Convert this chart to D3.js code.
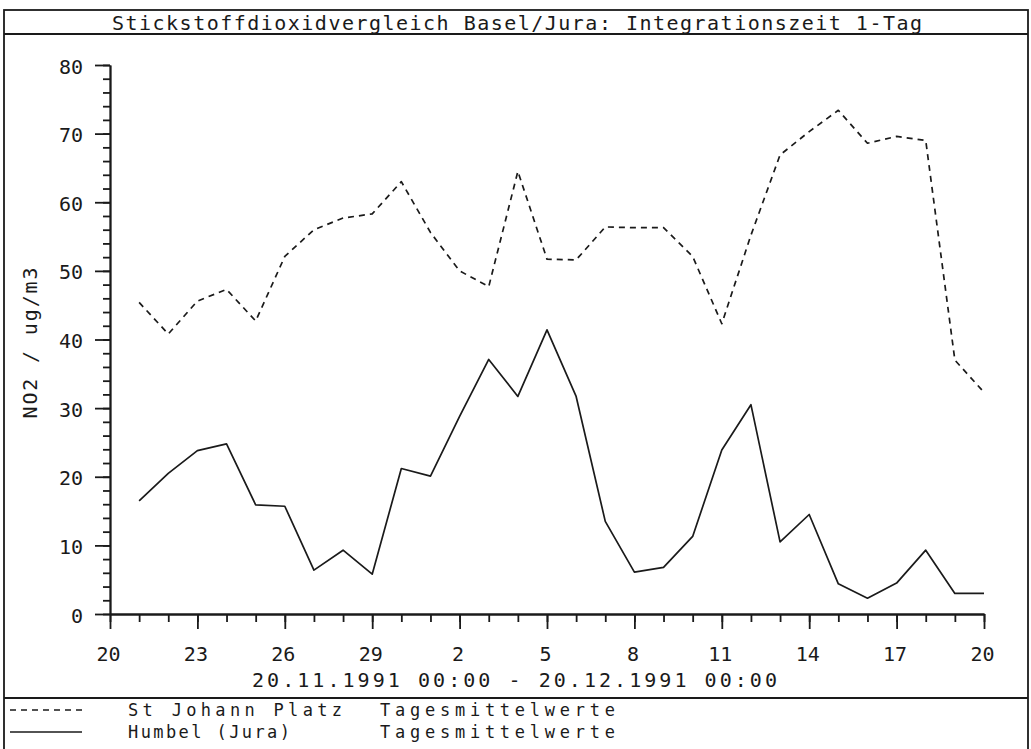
<!DOCTYPE html>
<html lang="de">
<head>
    <meta charset="UTF-8" />
    <title>Stickstoffdioxidvergleich Basel/Jura</title>
    <script src="https://cdn.jsdelivr.net/npm/d3@7"></script>
    <style>
        body { margin: 0; background: #fff; }
        svg text { font-family: "DejaVu Sans Mono", monospace; fill: #1a1a1a; }
        .axis path, .axis line { stroke: #1a1a1a; stroke-width: 1.8; }
    </style>
</head>
<body>
<script>
    var width = 1031;
    var height = 749;

    // Tagesmittelwerte NO2 (ug/m3), 21.11.1991 .. 20.12.1991
    const stJohann = [45.4, 40.8, 45.6, 47.3, 42.7, 52.1, 56.0, 57.7, 58.3, 63.0,
                      55.6, 50.0, 47.7, 64.5, 51.7, 51.6, 56.4, 56.3, 56.3, 52.1,
                      42.3, 55.2, 66.9, 70.3, 73.4, 68.6, 69.6, 69.0, 37.0, 32.3];
    const humbel = [16.5, 20.5, 23.8, 24.8, 15.9, 15.7, 6.4, 9.3, 5.8, 21.2,
                    20.1, 28.8, 37.1, 31.7, 41.4, 31.7, 13.5, 6.1, 6.8, 11.3,
                    23.9, 30.5, 10.5, 14.5, 4.4, 2.3, 4.5, 9.3, 3.0, 3.0];
    const seriesNames = ['St Johann Platz', 'Humbel (Jura)'];
    const seriesType = 'Tagesmittelwerte';
    const title = 'Stickstoffdioxidvergleich Basel/Jura: Integrationszeit 1-Tag';
    const yLabel = 'NO2 / ug/m3';
    const rangeLabel = '20.11.1991 00:00 - 20.12.1991 00:00';

    const startDate = new Date(Date.UTC(1991, 10, 20));
    const endDate = new Date(Date.UTC(1991, 11, 20));
    const days = d3.utcDay.range(d3.utcDay.offset(startDate, 1), d3.utcDay.offset(endDate, 1));
    const allDays = [startDate].concat(days);
    const majorDays = allDays.filter((d, i) => i % 3 === 0);

    var svg = d3.select('body').append('svg')
        .attr('width', width)
        .attr('height', height);

    var x = d3.scaleUtc().domain([startDate, endDate]).range([110, 984]);
    var y = d3.scaleLinear().domain([0, 80]).range([614, 65]);

    // frame
    var ink = '#1a1a1a';
    svg.append('rect')
        .attr('x', 4).attr('y', 10)
        .attr('width', 1024).attr('height', 760)
        .attr('fill', 'none').attr('stroke', ink).attr('stroke-width', 1.8);
    svg.append('line').attr('x1', 4).attr('x2', 1028).attr('y1', 34).attr('y2', 34)
        .attr('stroke', ink).attr('stroke-width', 1.8);
    svg.append('line').attr('x1', 4).attr('x2', 1028).attr('y1', 698).attr('y2', 698)
        .attr('stroke', ink).attr('stroke-width', 1.8);

    svg.append('text')
        .attr('x', 112).attr('y', 30)
        .attr('font-size', 20)
        .attr('textLength', 810).attr('lengthAdjust', 'spacing')
        .text(title);

    // y axis: minor every 2, major every 10
    svg.append('g').attr('class', 'axis')
        .attr('transform', 'translate(110,0)')
        .call(d3.axisLeft(y).tickValues(d3.range(0, 81, 2)).tickSize(7).tickSizeOuter(0).tickFormat(''));
    svg.append('g').attr('class', 'axis')
        .attr('transform', 'translate(110,0)')
        .call(d3.axisLeft(y).tickValues(d3.range(0, 81, 10)).tickSize(15).tickSizeOuter(0).tickPadding(12))
        .call(g => g.selectAll('text').attr('font-size', 20).attr('font-family', null).attr('dy', '0.4em'));

    // x axis: minor every day, major every 3 days
    svg.append('g').attr('class', 'axis')
        .attr('transform', 'translate(0,614)')
        .call(d3.axisBottom(x).tickValues(allDays).tickSize(8).tickSizeOuter(0).tickFormat(''));
    svg.append('g').attr('class', 'axis')
        .attr('transform', 'translate(0,614)')
        .call(d3.axisBottom(x).tickValues(majorDays).tickSize(15).tickSizeOuter(0).tickPadding(18)
            .tickFormat(d3.utcFormat('%-d')))
        .call(g => g.selectAll('text').attr('font-size', 20).attr('font-family', null).attr('dx', -2));
    svg.selectAll('.axis text').attr('fill', ink);

    svg.append('text')
        .attr('x', 252).attr('y', 687)
        .attr('font-size', 20)
        .attr('textLength', 525).attr('lengthAdjust', 'spacing')
        .text(rangeLabel);

    svg.append('text')
        .attr('transform', 'translate(37,343) rotate(-90)')
        .attr('text-anchor', 'middle')
        .attr('font-size', 20)
        .attr('textLength', 151).attr('lengthAdjust', 'spacing')
        .text(yLabel);

    // lines
    var line = d3.line()
        .x((d, i) => x(days[i]))
        .y(d => y(d));

    const dashes = ['6,5', null];
    [stJohann, humbel].forEach((vals, k) => {
        svg.append('path')
            .datum(vals)
            .attr('d', line)
            .attr('fill', 'none')
            .attr('stroke', ink)
            .attr('stroke-width', 1.7)
            .attr('stroke-linejoin', 'round')
            .attr('stroke-dasharray', dashes[k]);
    });

    // legend
    const legendY = [716, 738];
    const nameWidths = [214, 162];
    seriesNames.forEach((name, k) => {
        var g = svg.append('g').attr('transform', `translate(0,${legendY[k]})`);
        g.append('line')
            .attr('x1', 10).attr('x2', 82).attr('y1', -6).attr('y2', -6)
            .attr('stroke', ink).attr('stroke-width', 1.7)
            .attr('stroke-dasharray', dashes[k]);
        g.append('text')
            .attr('x', 128).attr('font-size', 17)
            .attr('textLength', nameWidths[k]).attr('lengthAdjust', 'spacing')
            .text(name);
        g.append('text')
            .attr('x', 380).attr('font-size', 17)
            .attr('textLength', 235).attr('lengthAdjust', 'spacing')
            .text(seriesType);
    });
</script>
</body>
</html>
